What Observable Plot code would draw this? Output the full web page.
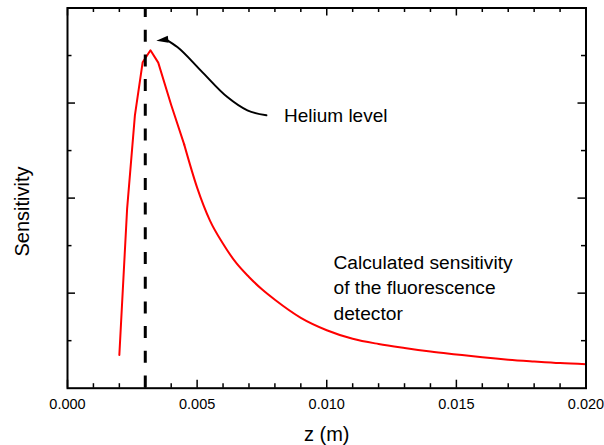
<!DOCTYPE html>
<html><head><meta charset="utf-8">
<script src="https://cdn.jsdelivr.net/npm/d3@7"></script>
<script src="https://cdn.jsdelivr.net/npm/@observablehq/plot@0.6"></script>
<style>
  html,body{margin:0;padding:0;background:#fff;}
  #chart svg{display:block;}
</style>
</head><body><div id="chart"></div>
<script>
// Sensitivity curve (arbitrary units, axis 0..8)
const zValues = [0.0020, 0.0023, 0.0026, 0.0029, 0.0032, 0.0035, 0.0040, 0.0045,
                 0.0050, 0.0055, 0.0060, 0.0065, 0.0070, 0.0075, 0.0080, 0.0090,
                 0.0100, 0.0110, 0.0120, 0.0130, 0.0140, 0.0150, 0.0160, 0.0170,
                 0.0180, 0.0190, 0.0200];
const sensitivity = [0.70, 3.78, 5.74, 6.86, 7.11, 6.85, 5.96, 5.13,
                     4.22, 3.52, 3.04, 2.64, 2.34, 2.08, 1.86, 1.48,
                     1.22, 1.04, 0.93, 0.846, 0.772, 0.71, 0.65, 0.60,
                     0.562, 0.528, 0.505];

// Axis ticks
const xMajorTicks = [0, 0.005, 0.010, 0.015, 0.020];
const xMinorTicks = [0.001, 0.002, 0.003, 0.004, 0.006, 0.007, 0.008, 0.009,
                     0.011, 0.012, 0.013, 0.014, 0.016, 0.017, 0.018, 0.019];
const yMajorTicks = [2, 4, 6];
const yMinorTicks = [1, 3, 5, 7];

// Annotations
const heliumLevel = [0.003];
const arrowZ = [0.003822, 0.004236, 0.005135, 0.006166, 0.006938, 0.007672];
const arrowS = [7.331, 7.179, 6.688, 6.126, 5.846, 5.741];
const arrowTip = [{z: 0.003425, s: 7.31}];
const heliumLabel = [{z: 0.00835, s: 5.6, text: "Helium level"}];
const curveLabel = [{z: 0.01026, s: 1.44, text: "Calculated sensitivity\nof the fluorescence\ndetector"}];
const xLabel = ["z (m)"];
const yLabel = ["Sensitivity"];

const data = zValues.map((z, i) => ({z, s: sensitivity[i]}));
const headPart = data.filter(d => d.z <= 0.0045);
const tailPart = data.filter(d => d.z >= 0.0045);
const arrowPath = arrowZ.map((z, i) => ({z, s: arrowS[i]}));

const W = 604, H = 445;
const mL = 67, mR = 18.5, mT = 7.5, mB = 57.3;
const innerW = W - mL - mR, innerH = H - mT - mB;
const major = 8, minor = 4.5;

const chart = Plot.plot({
  width: W, height: H,
  marginLeft: mL, marginRight: mR, marginTop: mT, marginBottom: mB,
  style: {fontFamily: "'Liberation Sans', Arial, sans-serif", color: "#000", background: "#fff"},
  x: {domain: [0, 0.02], axis: null},
  y: {domain: [0, 8], axis: null},
  marks: [
    // inward ticks: bottom & top
    Plot.tickX(xMajorTicks, {x: d => d, insetTop: innerH - major, stroke: "#000", strokeWidth: 1.5}),
    Plot.tickX(xMajorTicks, {x: d => d, insetBottom: innerH - major, stroke: "#000", strokeWidth: 1.5}),
    Plot.tickX(xMinorTicks, {x: d => d, insetTop: innerH - minor, stroke: "#000", strokeWidth: 1.5}),
    Plot.tickX(xMinorTicks, {x: d => d, insetBottom: innerH - minor, stroke: "#000", strokeWidth: 1.5}),
    // inward ticks: left & right
    Plot.tickY(yMajorTicks, {y: d => d, insetRight: innerW - major, stroke: "#000", strokeWidth: 1.5}),
    Plot.tickY(yMajorTicks, {y: d => d, insetLeft: innerW - major, stroke: "#000", strokeWidth: 1.5}),
    Plot.tickY(yMinorTicks, {y: d => d, insetRight: innerW - minor, stroke: "#000", strokeWidth: 1.5}),
    Plot.tickY(yMinorTicks, {y: d => d, insetLeft: innerW - minor, stroke: "#000", strokeWidth: 1.5}),
    Plot.axisX(xMajorTicks, {tickSize: 0, tickPadding: 11, fontSize: 14.5, tickFormat: d3.format(".3f"), label: null, fill: "#000"}),
    // sensitivity curve
    Plot.line(headPart, {x: "z", y: "s", stroke: "#ff0000", strokeWidth: 2, curve: "linear"}),
    Plot.line(tailPart, {x: "z", y: "s", stroke: "#ff0000", strokeWidth: 2, curve: "monotone-x"}),
    // helium level dashed line
    Plot.ruleX(heliumLevel, {x: d => d, stroke: "#000", strokeWidth: 3, strokeDasharray: "12,12.7", strokeDashoffset: 2.5}),
    // arrow
    Plot.line(arrowPath, {x: "z", y: "s", stroke: "#000", strokeWidth: 2, curve: "monotone-x"}),
    Plot.vector(arrowTip, {x: "z", y: "s", shape: "spike", anchor: "end", rotate: -97, length: 12, r: 3.5, fill: "#000", stroke: "none"}),
    // labels
    Plot.text(heliumLabel, {x: "z", y: "s", text: "text", textAnchor: "start", lineAnchor: "bottom", fontSize: 19, fill: "#000"}),
    Plot.text(curveLabel, {x: "z", y: "s", text: "text", textAnchor: "start", lineAnchor: "bottom", fontSize: 19.2, lineHeight: 1.33, fill: "#000"}),
    Plot.text(xLabel, {frameAnchor: "bottom", text: d => d, textAnchor: "middle", lineAnchor: "bottom", dy: 52.3, fontSize: 20, fill: "#000"}),
    Plot.text(yLabel, {frameAnchor: "left", text: d => d, textAnchor: "middle", rotate: -90, dx: -45.3, dy: 13.4, fontSize: 20, fill: "#000"}),
    Plot.frame({stroke: "#000", strokeWidth: 2})
  ]
});
document.getElementById("chart").appendChild(chart);
</script>
</body></html>
